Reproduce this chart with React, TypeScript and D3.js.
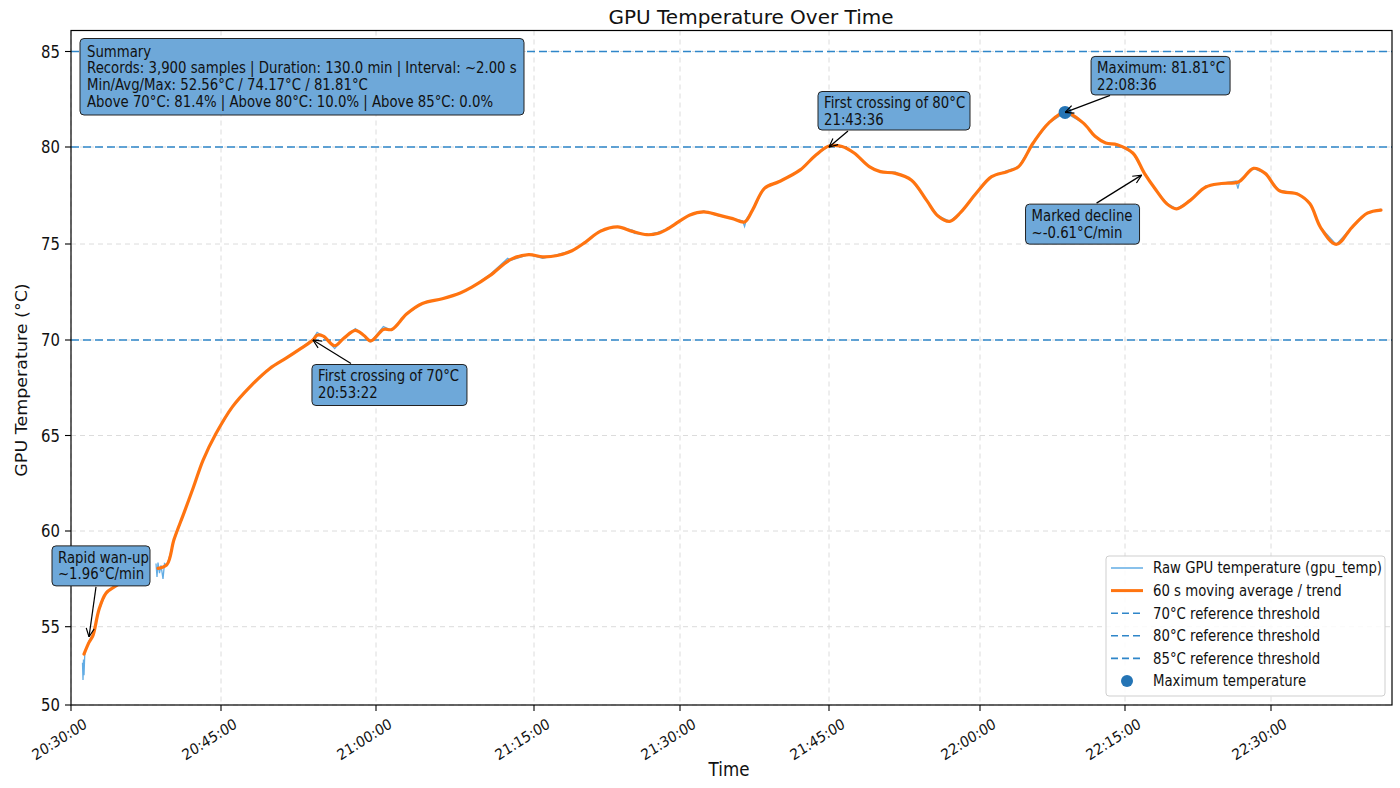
import React from "react";
import * as d3 from "d3";

// ---------------- DATA ----------------
const xTickMinutes = [0, 15, 30, 45, 60, 75, 90, 105, 120];
const xTickLabels = ["20:30:00", "20:45:00", "21:00:00", "21:15:00", "21:30:00", "21:45:00", "22:00:00", "22:15:00", "22:30:00"];
const yTicks = [50, 55, 60, 65, 70, 75, 80, 85];
const thresholds = [70, 80, 85];

// minutes after 20:30:00, smoothed trend (null = no data)
const trendPoints: [number, number | null][] = [
  [1.3, 53.25], [1.8, 54.0], [2.2, 54.45], [2.8, 55.9], [3.5, 56.75], [4.4, 57.1], [5.3, 57.4],
  [6.5, null],
  [8.7, 58.05], [9.6, 58.25], [10.3, 59.55], [11.3, 60.95], [12.25, 62.3], [13.2, 63.7],
  [14.5, 65.1], [16.1, 66.5], [17.8, 67.55], [19.7, 68.5], [21.3, 69.05], [22.7, 69.55],
  [23.9, 70.0], [24.3, 70.25], [24.9, 70.2], [26.0, 69.7], [26.9, 70.1], [28.0, 70.5],
  [28.8, 70.25], [29.5, 69.95], [30.7, 70.55], [31.5, 70.55], [32.9, 71.35], [34.4, 71.9],
  [36.3, 72.15], [38.0, 72.45], [39.1, 72.75], [40.8, 73.35], [42.8, 74.2], [44.5, 74.45],
  [45.9, 74.33], [47.4, 74.4], [48.9, 74.65], [50.3, 75.1], [51.8, 75.65], [53.6, 75.88],
  [55.1, 75.65], [56.6, 75.48], [57.7, 75.54], [58.8, 75.8], [61.0, 76.5], [62.4, 76.66],
  [63.9, 76.49], [65.3, 76.31], [66.5, 76.14], [67.3, 76.75], [68.5, 77.87], [70.0, 78.22],
  [72.1, 78.82], [73.6, 79.55], [75.0, 80.05], [76.3, 80.03], [77.5, 79.69], [79.0, 78.99],
  [80.1, 78.73], [81.6, 78.64], [83.2, 78.29], [84.7, 77.25], [85.8, 76.46], [87.0, 76.17],
  [88.1, 76.64], [89.6, 77.6], [91.2, 78.47], [92.8, 78.73], [94.0, 78.99], [95.5, 80.21],
  [97.1, 81.25], [98.8, 81.81], [100.7, 81.25], [101.9, 80.56], [103.0, 80.21], [104.2, 80.12],
  [105.8, 79.69], [107.0, 78.64], [108.2, 77.77], [109.3, 77.07], [110.3, 76.81], [111.7, 77.25],
  [113.3, 77.94], [114.9, 78.12], [116.7, 78.21], [118.2, 78.9], [119.4, 78.64], [120.8, 77.77],
  [122.8, 77.56], [124.0, 77.07], [125.1, 75.85], [126.7, 74.98], [128.3, 75.85], [129.9, 76.59],
  [131.3, 76.75],
];

// raw gpu_temp readings (minutes after 20:30:00)
const rawPoints: [number, number | null][] = [
  [1.15, 52.7], [1.2, 51.6], [1.25, 52.9], [1.3, 51.9], [1.38, 53.3], [1.8, 54.1], [2.2, 54.5],
  [2.8, 55.85], [3.5, 56.8], [4.4, 57.15], [5.3, 57.45],
  [6.5, null],
  [8.5, 58.3], [8.6, 57.6], [8.7, 58.35], [8.85, 57.8], [9.0, 58.2], [9.2, 57.5], [9.35, 58.3],
  [9.6, 58.2], [10.3, 59.5], [11.3, 60.9], [12.25, 62.3], [13.2, 63.7], [14.5, 65.1], [16.1, 66.5],
  [17.8, 67.55], [19.7, 68.5], [21.3, 69.05], [22.7, 69.55], [23.9, 70.05], [24.3, 70.4],
  [24.9, 70.2], [26.0, 69.55], [26.9, 70.1], [28.0, 70.6], [28.8, 70.25], [29.5, 69.9],
  [30.7, 70.7], [31.5, 70.5], [32.9, 71.35], [34.4, 71.9], [36.3, 72.15], [38.0, 72.45],
  [39.1, 72.75], [40.8, 73.4], [42.5, 74.25], [42.8, 74.15], [44.5, 74.45], [45.9, 74.25],
  [47.4, 74.45], [48.9, 74.65], [50.3, 75.1], [51.8, 75.7], [53.6, 75.9], [55.1, 75.72],
  [55.3, 75.55], [56.6, 75.48], [57.7, 75.6], [58.8, 75.8], [61.0, 76.5], [62.4, 76.7],
  [63.9, 76.45], [65.3, 76.31], [66.3, 76.2], [66.5, 75.9], [66.7, 76.3], [67.3, 76.75],
  [68.5, 77.9], [70.0, 78.2], [72.1, 78.82], [73.6, 79.55], [75.0, 80.05], [76.3, 80.03],
  [77.5, 79.69], [79.0, 78.99], [80.1, 78.73], [81.6, 78.7], [83.2, 78.29], [84.7, 77.25],
  [85.8, 76.46], [87.0, 76.17], [88.1, 76.64], [89.6, 77.6], [91.2, 78.47], [92.8, 78.78],
  [94.0, 78.99], [95.5, 80.21], [97.1, 81.25], [98.8, 81.81], [100.7, 81.25], [101.9, 80.56],
  [103.0, 80.21], [104.2, 80.12], [105.8, 79.69], [107.0, 78.64], [108.2, 77.77], [109.3, 77.1],
  [110.3, 76.81], [111.7, 77.25], [113.3, 77.98], [114.9, 78.12], [116.4, 78.25], [116.6, 77.85],
  [116.8, 78.3], [118.2, 78.9], [119.4, 78.64], [120.8, 77.77], [122.8, 77.6], [124.0, 77.07],
  [125.1, 75.85], [126.7, 74.98], [128.3, 75.85], [129.9, 76.62], [131.3, 76.8],
];

const maxPoint: [number, number] = [98.8, 81.81];

const summaryLines = [
  "Summary",
  "Records: 3,900 samples | Duration: 130.0 min | Interval: ~2.00 s",
  "Min/Avg/Max: 52.56°C / 74.17°C / 81.81°C",
  "Above 70°C: 81.4% | Above 80°C: 10.0% | Above 85°C: 0.0%",
];

const annotationLines = [
  ["Rapid wan-up", "~1.96°C/min"],
  ["First crossing of 70°C", "20:53:22"],
  ["First crossing of 80°C", "21:43:36"],
  ["Maximum: 81.81°C", "22:08:36"],
  ["Marked decline", "~-0.61°C/min"],
];
const annotationTargets: [number, number][] = [
  [1.8, 54.35],
  [23.9, 70.0],
  [75.0, 80.0],
  [98.8, 81.81],
  [106.7, 78.55],
];

const legendLabels = [
  "Raw GPU temperature (gpu_temp)",
  "60 s moving average / trend",
  "70°C reference threshold",
  "80°C reference threshold",
  "85°C reference threshold",
  "Maximum temperature",
];

// ---------------- LAYOUT / STYLE ----------------
const W = 1400;
const H = 788;
const LEFT = 71;
const RIGHT = 1392;
const TOP = 30.5;
const BOTTOM = 705;
const X_TICK_PX = [71, 221, 376, 534, 680, 829, 980, 1125, 1271];
const Y_TICK_PX = [705, 626.7, 531, 435.5, 340, 244, 147, 51.5];
const FONT = "'DejaVu Sans', sans-serif";
const BOX_FILL = "#6ea8d9";
const THRESH_COLOR = "#2f86c9";
const RAW_COLOR = "#62ace4";
const TREND_COLOR = "#ff7410";
const TEXT_COLOR = "#111";
const SQ = 0.886; // horizontal text squeeze seen in the reference

// box: [offsetX, offsetY, width, height] relative to arrow target, arrow start offset [dx, dy]
const annotationLayout = [
  { box: [-37, -91, 98, 40], start: [7, -50] },
  { box: [-1, 24.5, 155, 41], start: [38, 23.5] },
  { box: [-11, -55.5, 152, 38.5], start: [19, -16] },
  { box: [26, -56, 139, 38.5], start: [45, -17] },
  { box: [-116, 29, 114, 40], start: [-45, 28] },
];

const BASE = new Date(2025, 0, 1, 20, 30, 0).getTime();
const toDate = (m: number) => new Date(BASE + m * 60000);

function T(props: {
  x: number;
  y: number;
  size: number;
  sx?: number;
  anchor?: "start" | "middle" | "end";
  rotate?: number;
  children: React.ReactNode;
}) {
  const { x, y, size, sx = 1, anchor = "start", rotate = 0, children } = props;
  const tr = `translate(${x},${y}) scale(${sx},1)` + (rotate ? ` rotate(${rotate})` : "");
  return (
    <text transform={tr} fontSize={size} textAnchor={anchor} fill={TEXT_COLOR}>
      {children}
    </text>
  );
}

export default function App() {
  const x = d3.scaleTime().domain(xTickMinutes.map(toDate)).range(X_TICK_PX);
  const y = d3.scaleLinear().domain(yTicks).range(Y_TICK_PX);

  const rawLine = d3
    .line<[number, number | null]>()
    .defined((d) => d[1] != null)
    .x((d) => x(toDate(d[0])))
    .y((d) => y(d[1] as number));
  const trendLine = d3
    .line<[number, number | null]>()
    .defined((d) => d[1] != null)
    .x((d) => x(toDate(d[0])))
    .y((d) => y(d[1] as number))
    .curve(d3.curveCatmullRom.alpha(0.5));

  const legendX = 1106;
  const legendY = 556;
  const rowGap = 22.6;

  return (
    <svg
      width={W}
      height={H}
      viewBox={`0 0 ${W} ${H}`}
      style={{ position: "fixed", left: 0, top: 0, background: "#fff" }}
      fontFamily={FONT}
    >
      <defs>
        <marker id="arrowHead" viewBox="0 0 10 10" refX="9.5" refY="5" markerWidth="10" markerHeight="10" markerUnits="userSpaceOnUse" orient="auto">
          <path d="M1,1 L9.5,5 L1,9" fill="none" stroke="#000" strokeWidth="1.2" />
        </marker>
        <clipPath id="plotClip">
          <rect x={LEFT} y={TOP} width={RIGHT - LEFT} height={BOTTOM - TOP} />
        </clipPath>
      </defs>
      <rect x={0} y={0} width={W} height={H} fill="#fff" />

      {/* title */}
      <T x={751} y={24} size={20} anchor="middle">
        GPU Temperature Over Time
      </T>

      {/* grid */}
      <g stroke="#d4d4d4" strokeWidth={1} strokeDasharray="5,4" opacity={0.8}>
        {xTickMinutes.map((m, i) => (
          <line key={"gx" + i} x1={x(toDate(m))} x2={x(toDate(m))} y1={TOP} y2={BOTTOM} />
        ))}
        {yTicks.map((v, i) => (
          <line key={"gy" + i} x1={LEFT} x2={RIGHT} y1={y(v)} y2={y(v)} />
        ))}
      </g>

      {/* thresholds */}
      <g stroke={THRESH_COLOR} strokeWidth={1.6} strokeDasharray="8,4">
        {thresholds.map((t) => (
          <line key={"t" + t} x1={LEFT} x2={RIGHT} y1={y(t)} y2={y(t)} />
        ))}
      </g>

      <g clipPath="url(#plotClip)">
        <path d={rawLine(rawPoints) || ""} fill="none" stroke={RAW_COLOR} strokeWidth={1.3} />
        <path d={trendLine(trendPoints) || ""} fill="none" stroke={TREND_COLOR} strokeWidth={3.2} strokeLinejoin="round" strokeLinecap="round" />
        <circle cx={x(toDate(maxPoint[0]))} cy={y(maxPoint[1])} r={6.5} fill="#2474b5" />
      </g>

      {/* axes frame */}
      <rect x={LEFT} y={TOP} width={RIGHT - LEFT} height={BOTTOM - TOP} fill="none" stroke="#000" strokeWidth={1.2} />

      {/* y ticks */}
      {yTicks.map((v, i) => (
        <g key={"yt" + i}>
          <line x1={LEFT - 6} x2={LEFT} y1={y(v)} y2={y(v)} stroke="#000" strokeWidth={1.1} />
          <T x={60} y={y(v) + 6.2} size={17} sx={0.875} anchor="end">
            {v}
          </T>
        </g>
      ))}

      {/* x ticks */}
      {xTickMinutes.map((m, i) => {
        const px = x(toDate(m));
        return (
          <g key={"xt" + i}>
            <line x1={px} x2={px} y1={BOTTOM} y2={BOTTOM + 6} stroke="#000" strokeWidth={1.1} />
            <T x={px + 17} y={727} size={15} sx={0.9} rotate={-30} anchor="end">
              {xTickLabels[i]}
            </T>
          </g>
        );
      })}

      {/* axis labels */}
      <T x={729} y={776} size={19} sx={0.88} anchor="middle">
        Time
      </T>
      <T x={27} y={380} size={17.5} sx={0.88} rotate={-90} anchor="middle">
        GPU Temperature (°C)
      </T>

      {/* summary box */}
      <rect x={80} y={38.5} width={444} height={76.5} rx={4} fill={BOX_FILL} stroke="#222" strokeWidth={1} />
      {summaryLines.map((s, i) => (
        <T key={"s" + i} x={87} y={56.5 + i * 16.7} size={15} sx={SQ}>
          {s}
        </T>
      ))}

      {/* annotations */}
      {annotationLines.map((lines, i) => {
        const tx = x(toDate(annotationTargets[i][0]));
        const ty = y(annotationTargets[i][1]);
        const L = annotationLayout[i];
        const bx = tx + L.box[0];
        const by = ty + L.box[1];
        return (
          <g key={"a" + i}>
            <line x1={tx + L.start[0]} y1={ty + L.start[1]} x2={tx} y2={ty} stroke="#000" strokeWidth={1.2} markerEnd="url(#arrowHead)" />
            <rect x={bx} y={by} width={L.box[2]} height={L.box[3]} rx={4} fill={BOX_FILL} stroke="#222" strokeWidth={1} />
            {lines.map((s, j) => (
              <T key={j} x={bx + 6} y={by + 16.8 + j * 16.7} size={15} sx={SQ}>
                {s}
              </T>
            ))}
          </g>
        );
      })}

      {/* legend */}
      <rect x={legendX} y={legendY} width={279} height={140} rx={3} fill="#fff" fillOpacity={0.85} stroke="#cfcfcf" strokeWidth={1} />
      {legendLabels.map((s, i) => {
        const cy = legendY + 12 + i * rowGap;
        let handle: React.ReactNode = null;
        if (i === 0) handle = <line x1={legendX + 5} x2={legendX + 37} y1={cy} y2={cy} stroke={RAW_COLOR} strokeWidth={1.5} />;
        else if (i === 1) handle = <line x1={legendX + 5} x2={legendX + 37} y1={cy} y2={cy} stroke={TREND_COLOR} strokeWidth={3} />;
        else if (i < 5) handle = <line x1={legendX + 5} x2={legendX + 37} y1={cy} y2={cy} stroke={THRESH_COLOR} strokeWidth={1.6} strokeDasharray="7,4" />;
        else handle = <circle cx={legendX + 21} cy={cy} r={6} fill="#2474b5" />;
        return (
          <g key={"l" + i}>
            {handle}
            <T x={legendX + 47} y={cy + 5.3} size={15} sx={SQ}>
              {s}
            </T>
          </g>
        );
      })}
    </svg>
  );
}
